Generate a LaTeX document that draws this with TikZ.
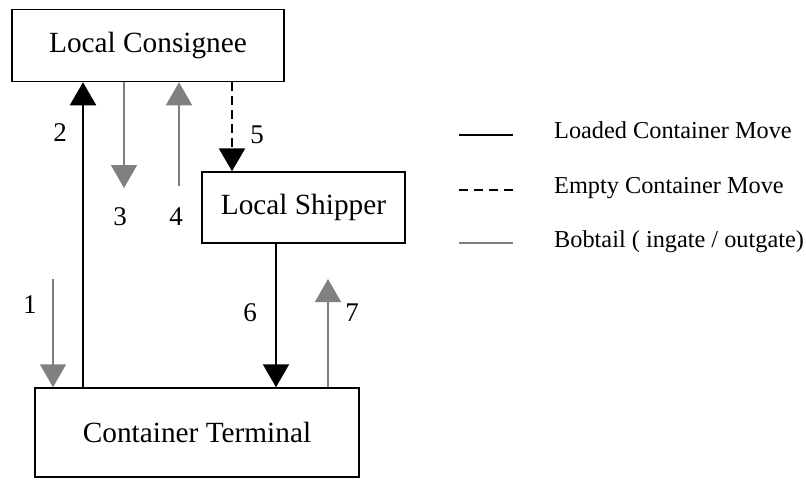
\documentclass[tikz,border=0pt]{standalone}
\usepackage{fontspec}
\setmainfont{Liberation Serif}
\usetikzlibrary{arrows.meta}
\definecolor{bobgray}{HTML}{808080}
\begin{document}
\begin{tikzpicture}[x=1pt,y=-1pt,
  box/.style={draw,line width=1.5pt,inner sep=0pt,font=\fontsize{29.3}{31}\selectfont},
  num/.style={font=\fontsize{27}{29}\selectfont,inner sep=0pt},
  legtext/.style={font=\fontsize{24.3}{26}\selectfont,inner sep=0pt,anchor=base west},
  loaded/.style={line width=2pt,-{Triangle[width=26pt,length=23pt]}},
  emptymove/.style={line width=2.8pt,dash pattern=on 9pt off 5pt,-{Triangle[width=26pt,length=23pt]}},
  bobtail/.style={bobgray,line width=1.6pt,-{Triangle[width=26pt,length=23pt]}}]
\useasboundingbox (0,0) rectangle (806,483);
\node[box,minimum width=272pt,minimum height=72pt] (lc) at (148,45.5) {Local Consignee};
\node[box,minimum width=203pt,minimum height=71pt] (ls) at (303.5,207.5) {Local Shipper};
\node[box,minimum width=324pt,minimum height=89pt] (ct) at (197,432.5) {Container Terminal};
% arrow 1
\coordinate (a1) at (53,279);
\draw[bobtail] (a1) -- (a1 |- ct.north);
% arrow 2
\coordinate (a2) at (83,388);
\draw[loaded] (a2 |- ct.north) -- (a2 |- lc.south);
% arrow 3
\coordinate (a3) at (124,188);
\draw[bobtail] (a3 |- lc.south) -- (a3);
% arrow 4
\coordinate (a4) at (179,186);
\draw[bobtail] (a4) -- (a4 |- lc.south);
% arrow 5
\coordinate (a5) at (232,100);
\draw[emptymove] (a5 |- lc.south) -- (a5 |- ls.north);
% arrow 6
\coordinate (a6) at (276,300);
\draw[loaded] (a6 |- ls.south) -- (a6 |- ct.north);
% arrow 7
\coordinate (a7) at (328,279);
\draw[bobtail] (a7 |- ct.north) -- (a7);
% labels
\node[num] (n1) at (30,305) {1};
\node[num] (n2) at (60,133) {2};
\node[num] (n3) at (120,217) {3};
\node[num] (n4) at (176,217) {4};
\node[num] (n5) at (257,135) {5};
\node[num] (n6) at (250,313) {6};
\node[num] (n7) at (352,313) {7};
% legend
\coordinate (l1a) at (459,135); \coordinate (l1b) at (513,135);
\coordinate (l2a) at (459,190); \coordinate (l2b) at (513,190);
\coordinate (l3a) at (459,243); \coordinate (l3b) at (513,243);
\draw[line width=2pt] (l1a) -- (l1b);
\draw[line width=2.6pt,dash pattern=on 9pt off 6pt] (l2a) -- (l2b);
\draw[bobgray,line width=1.6pt] (l3a) -- (l3b);
\node[legtext] (t1) at (554,138) {Loaded Container Move};
\node[legtext] (t2) at (554,193) {Empty Container Move};
\node[legtext] (t3) at (554,247) {Bobtail ( ingate / outgate)};
\end{tikzpicture}
\end{document}
